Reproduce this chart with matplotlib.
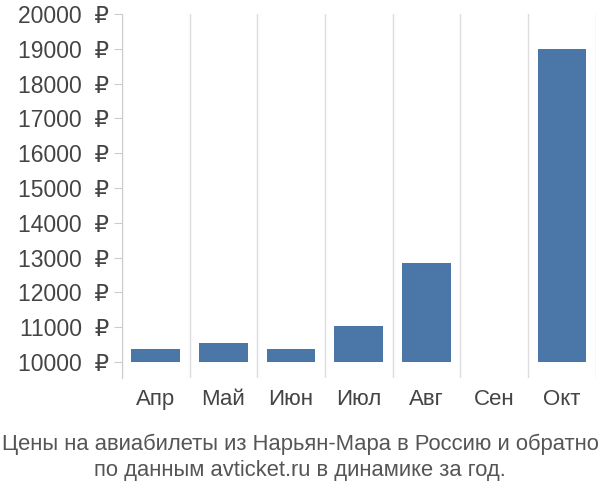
import matplotlib
matplotlib.use("Agg")
import matplotlib.pyplot as plt

plt.rcParams['font.family'] = ['Liberation Sans', 'DejaVu Sans']

months = ['Апр', 'Май', 'Июн', 'Июл', 'Авг', 'Сен', 'Окт']
prices = [10370, 10540, 10370, 11030, 12850, None, 19000]
base = 10000

fig = plt.figure(figsize=(6, 5), dpi=100)
ax = fig.add_axes([0.203, 0.244, 0.790, 0.728])

for i, p in enumerate(prices):
    if p is not None:
        ax.bar(i, p - base, bottom=base, width=0.72, color='#4a76a8', zorder=3)

ax.set_xlim(-0.5, len(months) - 0.5)
ax.set_ylim(9540, 20000)
ax.set_yticks(range(10000, 20001, 1000))
ax.set_yticklabels([f'{v}  ₽' for v in range(10000, 20001, 1000)], fontsize=16.5, color='#444444')
ax.set_xticks(range(len(months)))
ax.set_xticklabels(months, fontsize=16, color='#444444')
ax.tick_params(axis='x', length=0, pad=8)
ax.tick_params(axis='y', length=6, color='#cccccc', pad=3)

for x in [i - 0.5 for i in range(len(months) + 1)]:
    ax.axvline(x, color='#dddddd', lw=1, zorder=1)
for s in ['top', 'right', 'bottom']:
    ax.spines[s].set_visible(False)
ax.spines['left'].set_color('#cccccc')

fig.text(0.5, 0.085, 'Цены на авиабилеты из Нарьян-Мара в Россию и обратно\nпо данным avticket.ru в динамике за год.',
         ha='center', va='center', fontsize=15.8, color='#555555', linespacing=1.35)

fig.savefig('out.png')
